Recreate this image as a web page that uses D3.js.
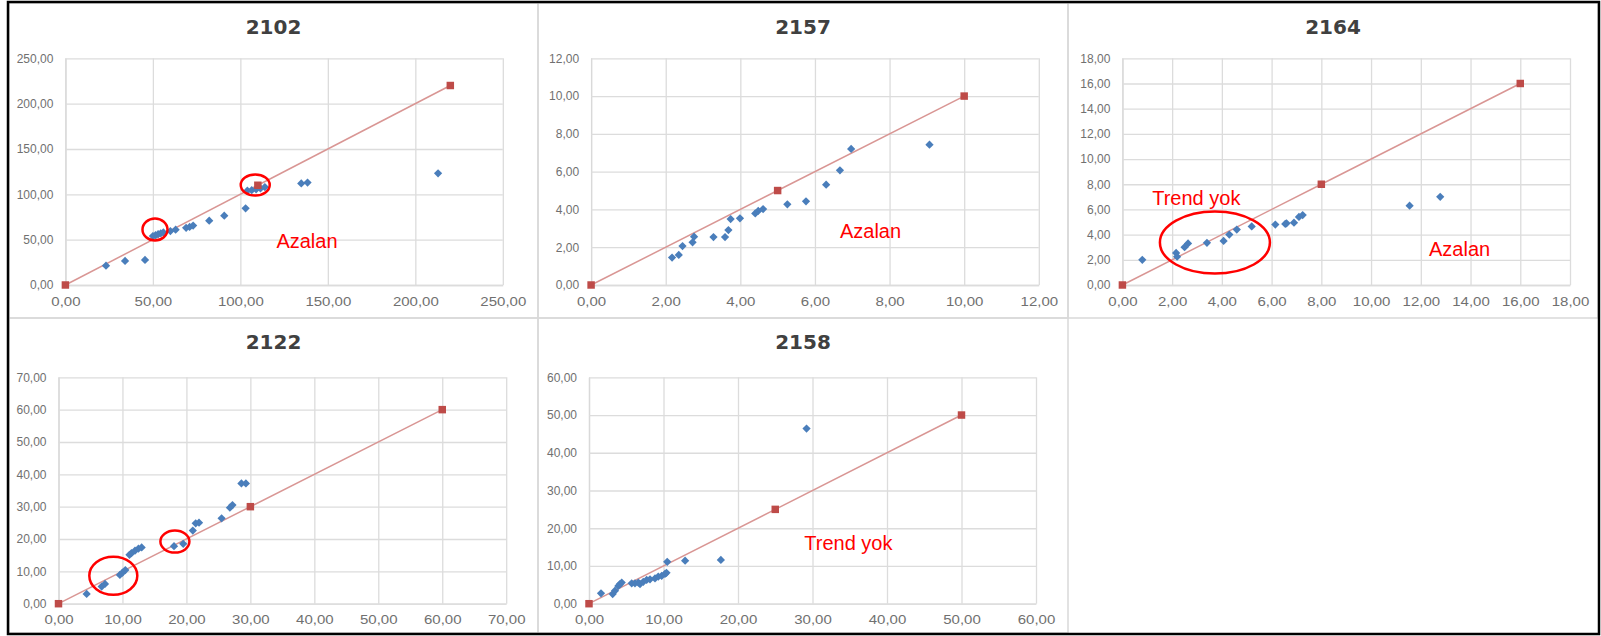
<!DOCTYPE html>
<html>
<head>
<meta charset="utf-8">
<script src="https://cdn.jsdelivr.net/npm/d3@7"></script>
<style>
  body { margin: 0; background: #fff; }
  svg { display: block; }
</style>
</head>
<body>
<script>
// observed vs expected values, one chart per station

var titles = ["2102", "2157", "2164", "2122", "2158"];

var obs2102 = [[23.2,21.3],[34.1,26.5],[45.5,27.6],[50,54],[51.5,55],[53,56],[54.5,57],[56,58],
  [60,59.5],[63,61],[69,63],[71,64],[73,65.5],[82.2,70.9],[90.8,76.4],[103,84.6],
  [104,104],[106.5,104.5],[109,105.5],[111.5,106.5],[114,108],[134.8,112],[138.4,112.9],[213,123.2]];
var obs2157 = [[2.17,1.45],[2.35,1.59],[2.45,2.06],[2.72,2.26],[2.76,2.56],[3.28,2.54],[3.59,2.54],
  [3.68,2.91],[3.74,3.49],[3.99,3.53],[4.40,3.79],[4.48,3.92],[4.61,4.02],[5.26,4.27],[5.76,4.43],
  [6.30,5.31],[6.67,6.07],[6.97,7.20],[9.07,7.43]];
var obs2164 = [[0.8,2.0],[2.16,2.55],[2.2,2.25],[2.5,3.0],[2.64,3.3],[3.4,3.35],[4.07,3.5],[4.3,4.0],
  [4.6,4.4],[5.2,4.65],[6.15,4.8],[6.55,4.85],[6.6,4.9],[6.9,4.95],[7.1,5.4],[7.25,5.55],[11.55,6.3],[12.78,7.0]];
var obs2122 = [[4.4,3.0],[6.75,5.3],[7.27,6.1],[9.6,8.9],[10.0,9.6],[10.45,10.4],[11.1,15.1],[11.4,15.6],
  [11.96,16.4],[12.5,17.0],[13.0,17.4],[18.06,17.8],[19.5,18.5],[21.0,22.6],[21.45,24.85],[21.97,25.05],
  [25.5,26.4],[26.8,29.7],[27.2,30.5],[28.6,37.2],[29.3,37.2]];
var obs2158 = [[1.61,2.75],[3.18,2.57],[3.49,3.45],[3.94,4.7],[4.16,5.2],[4.39,5.6],[5.73,5.4],[6.17,5.4],
  [6.62,5.6],[6.85,5.2],[7.29,5.8],[7.74,6.3],[8.19,6.45],[8.86,6.7],[9.3,7.2],[9.75,7.35],[10.2,7.9],
  [10.4,8.2],[10.5,11.1],[12.9,11.4],[17.7,11.6],[29.2,46.4]];

// 1:1 reference line markers
var ref2102 = [0, 110, 220];
var ref2157 = [0, 5, 10];
var ref2164 = [0, 8, 16];
var ref2122 = [0, 30, 60];
var ref2158 = [0, 25, 50];

// axis ticks
var ticks2102 = [0, 50, 100, 150, 200, 250];
var ticks2157 = [0, 2, 4, 6, 8, 10, 12];
var ticks2164 = [0, 2, 4, 6, 8, 10, 12, 14, 16, 18];
var ticks2122 = [0, 10, 20, 30, 40, 50, 60, 70];
var ticks2158 = [0, 10, 20, 30, 40, 50, 60];

// notes written on the charts: [text, x, y]
var notes2102 = [["Azalan", 120.6, 49]];
var notes2157 = [["Azalan", 6.67, 2.86]];
var notes2164 = [["Trend yok", 1.2, 6.89], ["Azalan", 12.33, 2.83]];
var notes2122 = [];
var notes2158 = [["Trend yok", 28.9, 16.0]];

// red rings: [cx, cy, rx, ry]
var rings2102 = [[51.2, 61.2, 12.5, 11], [108.5, 110.3, 14.5, 10.5]];
var rings2157 = [];
var rings2164 = [[3.72, 3.37, 55, 31]];
var rings2122 = [[8.57, 8.63, 24, 19], [18.2, 19.2, 14.5, 11]];
var rings2158 = [];

var fmt = d3.formatLocale({decimal: ",", thousands: ".", grouping: [3], currency: ["", ""]}).format(".2f");

var svg = d3.select("body").append("svg")
    .attr("width", 1601)
    .attr("height", 636);

svg.append("rect").attr("width", 1601).attr("height", 636).attr("fill", "#fff");

// panel frames
var frames = [[9, 3, 529, 315], [538, 3, 530, 315], [1068, 3, 530, 315], [9, 318, 529, 315], [538, 318, 530, 315]];
svg.selectAll(".frame")
  .data(frames)
  .enter().append("rect")
    .attr("class", "frame")
    .attr("x", function(d) { return d[0]; })
    .attr("y", function(d) { return d[1]; })
    .attr("width", function(d) { return d[2]; })
    .attr("height", function(d) { return d[3]; })
    .attr("fill", "none")
    .attr("stroke", "#d9d9d9")
    .attr("stroke-width", 1.5);

var panels = [
  {obs: obs2102, ref: ref2102, ticks: ticks2102, notes: notes2102, rings: rings2102, box: [65.4, 502.8, 58.3, 285]},
  {obs: obs2157, ref: ref2157, ticks: ticks2157, notes: notes2157, rings: rings2157, box: [591.1, 1038.8, 58.3, 285]},
  {obs: obs2164, ref: ref2164, ticks: ticks2164, notes: notes2164, rings: rings2164, box: [1122.4, 1570, 58.3, 285]},
  {obs: obs2122, ref: ref2122, ticks: ticks2122, notes: notes2122, rings: rings2122, box: [58.5, 506.2, 377.3, 603.7]},
  {obs: obs2158, ref: ref2158, ticks: ticks2158, notes: notes2158, rings: rings2158, box: [589, 1036, 377.3, 603.7]}
];

panels.forEach(function(p, i) {
  var f = frames[i];
  var top = p.box[2], bottom = p.box[3];
  var max = p.ticks[p.ticks.length - 1];

  var x = d3.scaleLinear().domain([0, max]).range([p.box[0], p.box[1]]);
  var y = d3.scaleLinear().domain([0, max]).range([bottom, top]);

  var g = svg.append("g");

  // title
  g.append("text")
      .attr("x", f[0] + f[2] / 2)
      .attr("y", f[1] + 24)
      .attr("text-anchor", "middle")
      .attr("dominant-baseline", "central")
      .style("font", "bold 20px 'DejaVu Sans', sans-serif")
      .attr("fill", "#404040")
      .text(titles[i]);

  var xAxis = g.append("g")
      .attr("transform", "translate(0," + bottom + ")")
      .call(d3.axisBottom(x).tickValues(p.ticks).tickFormat(fmt)
        .tickSize(-(bottom - top)).tickSizeOuter(0).tickPadding(12));

  var yAxis = g.append("g")
      .attr("transform", "translate(" + p.box[0] + ",0)")
      .call(d3.axisLeft(y).tickValues(p.ticks).tickFormat(fmt)
        .tickSize(-(p.box[1] - p.box[0])).tickSizeOuter(0).tickPadding(12));

  [xAxis, yAxis].forEach(function(a) {
    a.select(".domain").attr("stroke", "#d9d9d9").attr("stroke-width", 1.3);
    a.selectAll(".tick line").attr("stroke", "#dcdcdc").attr("stroke-width", 1.3);
    a.selectAll(".tick text")
        .attr("fill", "#707070")
        .style("font", "12px 'Liberation Sans', Arial, sans-serif");
  });
  xAxis.selectAll(".tick text").attr("transform", "scale(1.25,1)");

  // reference line
  var line = d3.line()
      .x(function(d) { return x(d); })
      .y(function(d) { return y(d); });

  g.append("path")
      .datum(p.ref)
      .attr("d", line)
      .attr("fill", "none")
      .attr("stroke", "#d99694")
      .attr("stroke-width", 1.5);

  // observed points
  g.selectAll(".pt")
    .data(p.obs)
    .enter().append("path")
      .attr("class", "pt")
      .attr("d", d3.symbol().type(d3.symbolSquare).size(34))
      .attr("transform", function(d) { return "translate(" + x(d[0]) + "," + y(d[1]) + ") rotate(45)"; })
      .attr("fill", "#4a7ebb");

  g.selectAll(".ref")
    .data(p.ref)
    .enter().append("path")
      .attr("class", "ref")
      .attr("d", d3.symbol().type(d3.symbolSquare).size(56))
      .attr("transform", function(d) { return "translate(" + x(d) + "," + y(d) + ")"; })
      .attr("fill", "#be4b48");

  // red rings
  g.selectAll(".ring")
    .data(p.rings)
    .enter().append("ellipse")
      .attr("class", "ring")
      .attr("cx", function(d) { return x(d[0]); })
      .attr("cy", function(d) { return y(d[1]); })
      .attr("rx", function(d) { return d[2]; })
      .attr("ry", function(d) { return d[3]; })
      .attr("fill", "none")
      .attr("stroke", "#f00")
      .attr("stroke-width", 2.5);

  g.selectAll(".note")
    .data(p.notes)
    .enter().append("text")
      .attr("class", "note")
      .attr("x", function(d) { return x(d[1]); })
      .attr("y", function(d) { return y(d[2]); })
      .attr("dominant-baseline", "central")
      .style("font", "20px 'Liberation Sans', Arial, sans-serif")
      .attr("fill", "#f00")
      .text(function(d) { return d[0]; });
});

// outer border
svg.append("rect")
    .attr("x", 8).attr("y", 2)
    .attr("width", 1591).attr("height", 632)
    .attr("fill", "none")
    .attr("stroke", "#000")
    .attr("stroke-width", 2.5);
</script>
</body>
</html>
